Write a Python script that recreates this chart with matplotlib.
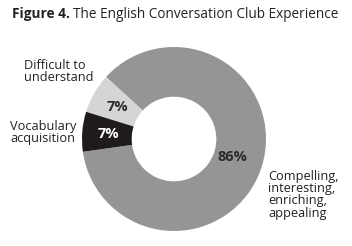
import matplotlib
matplotlib.use("Agg")
import matplotlib.pyplot as plt
import numpy as np

plt.rcParams['font.family'] = ['Open Sans', 'DejaVu Sans']

labels = ['Compelling,\ninteresting,\nenriching,\nappealing', 'Difficult to\nunderstand', 'Vocabulary\nacquisition']
values = [86, 7, 7]
colors = ['#959597', '#d5d5d5', '#1f1b1b']
pct_colors = ['#2a2a2a', '#2a2a2a', 'white']

fig = plt.figure(figsize=(3.52, 2.46), dpi=100)
# axes placed so the donut sits at ~ (174, 139) px with radius ~92 px
r_px = 92
cx, cy = 174, 246 - 139
ax = fig.add_axes([(cx - r_px) / 352, (cy - r_px) / 246, 2 * r_px / 352, 2 * r_px / 246])

wedges, _ = ax.pie(values, colors=colors, startangle=188, counterclock=True,
                   radius=1.0, wedgeprops=dict(width=0.54, edgecolor='none'))
ax.set_xlim(-1, 1)
ax.set_ylim(-1, 1)
ax.set_aspect('equal')
ax.axis('off')

# percentage labels inside the ring
for w, v, c in zip(wedges, values, pct_colors):
    ang = np.deg2rad((w.theta1 + w.theta2) / 2)
    rr = 0.67 if v > 50 else 0.71
    ax.text(rr * np.cos(ang), rr * np.sin(ang), f'{v}%', color=c,
            ha='center', va='center', fontsize=10.5, fontweight='bold')

# outside category labels
lab_kw = dict(ha='left', va='top', fontsize=9.2, color='#222222', linespacing=0.92)
fig.text(24 / 352, 1 - 59 / 246, labels[1], **lab_kw)
fig.text(10 / 352, 1 - 120 / 246, labels[2], **lab_kw)
fig.text(268 / 352, 1 - 170 / 246, labels[0], **lab_kw)

# title: bold "Figure 4." then the rest in regular weight
t1 = fig.text(12 / 352, 1 - 7 / 246, 'Figure 4.', ha='left', va='top',
              fontsize=9.8, fontweight='bold', color='#222222')
fig.canvas.draw()
bb = t1.get_window_extent()
fig.text(bb.x1 / fig.bbox.width + 3 / 352, 1 - 7 / 246, 'The English Conversation Club Experience',
         ha='left', va='top', fontsize=9.8, color='#222222')

fig.savefig('out.png', dpi=100)
